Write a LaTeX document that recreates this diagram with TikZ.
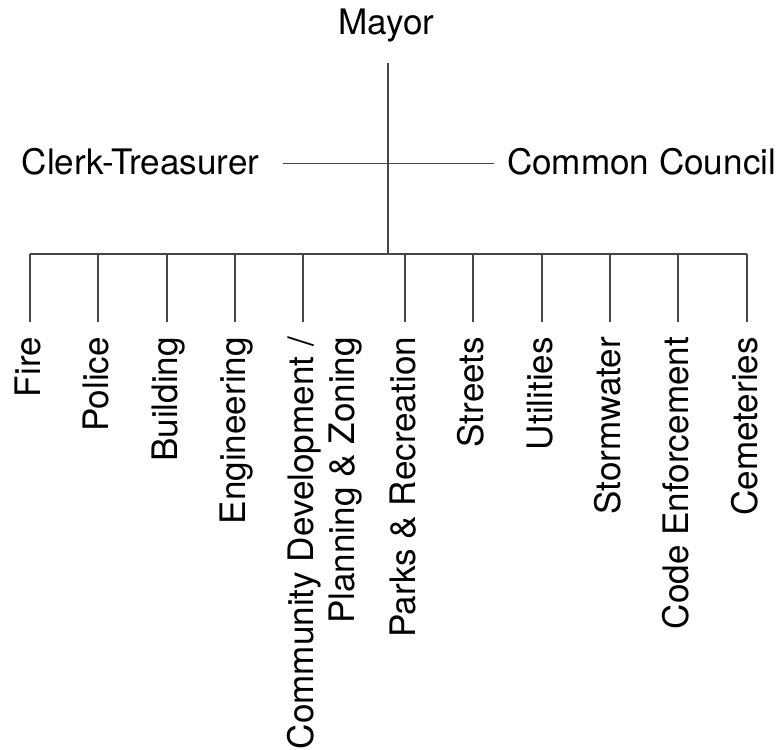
\documentclass[tikz,border=0pt]{standalone}
\usepackage{fontspec}
\setmainfont{TeX Gyre Heros}
\begin{document}
\begin{tikzpicture}[
  conn/.style={draw=black!72, line width=1.3pt},
  lbl/.style={inner sep=0pt, outer sep=0pt, font=\fontsize{35.1}{40}\selectfont},
  dept/.style={lbl, rotate=90, anchor=base east}
]
\useasboundingbox (0,0) rectangle (778pt,749pt);
\begin{scope}[x=1pt,y=1pt]
% top level
\node[lbl, anchor=base] (mayor) at (386.5,714) {Mayor};
\node[lbl, anchor=base east] (clerk) at (259.5,574) {Clerk-Treasurer};
\node[lbl, anchor=base west] (council) at (507,574) {Common Council};
\coordinate (top) at (388,686);
\coordinate (hub) at (388,585.7);
\coordinate (bus) at (388,495);
\coordinate (cl) at (283,585.7);
\coordinate (cr) at (494,585.7);
\coordinate (busL) at (30,495);
\coordinate (busR) at (747,495);
\draw[conn] (top) -- (hub) -- (bus);
\draw[conn] (cl) -- (hub) -- (cr);
\draw[conn] (busL) -- (bus) -- (busR);
% departments
\foreach \nm/\x/\txt in {fire/30/Fire, police/98/Police, building/167/Building, engineering/235/Engineering, comm/303/{Community Development /}, parks/405/{Parks \& Recreation}, streets/473/Streets, utilities/542/Utilities, storm/610/Stormwater, code/678/{Code Enforcement}, cem/747/Cemeteries}{
  \coordinate (\nm-t) at (\x,495);
  \coordinate (\nm-b) at (\x,427);
  \draw[conn] (\nm-t) -- (\nm-b);
  \node[dept] (\nm) at (\x+10.5,412) {\txt};
}
\node[dept] (comm2) at (303+51.5,412) {Planning \& Zoning};
\end{scope}
\end{tikzpicture}
\end{document}
